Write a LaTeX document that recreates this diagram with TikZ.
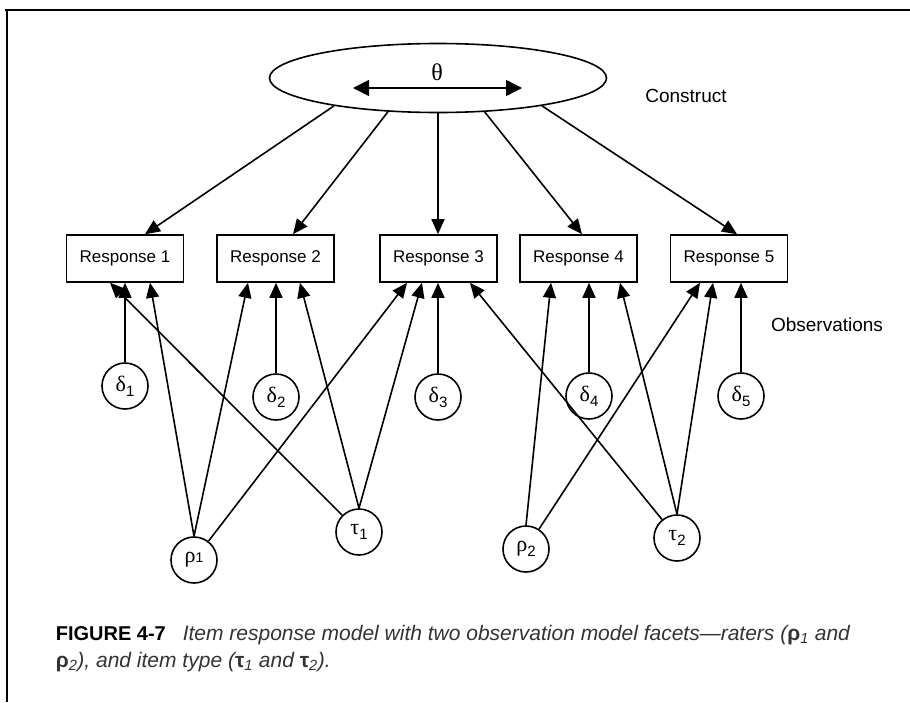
\documentclass[tikz,border=0pt]{standalone}
\usepackage{fontspec}
\setmainfont{Liberation Sans}
\newfontfamily\grf{Liberation Serif}
\usetikzlibrary{arrows.meta,shapes.geometric}
\newcommand\glab[2]{{\fontsize{22}{22}\selectfont\grf #1}\raisebox{-5pt}{\fontsize{15}{15}\selectfont #2}}
\begin{document}
\begin{tikzpicture}[x=1pt,y=-1pt,line width=1.6pt,
  resp/.style={draw,rectangle,minimum width=117pt,minimum height=47pt,inner sep=0pt,font=\fontsize{17}{19}\selectfont},
  lat/.style={draw,circle,minimum size=46pt,inner sep=0pt},
  edge/.style={-{Triangle[length=15pt,width=13pt]}},
  lbl/.style={font=\fontsize{19}{22}\selectfont}]
\useasboundingbox (0,0) rectangle (910,702);
% frame
\coordinate (f1) at (5,10);
\coordinate (f2) at (910,10);
\coordinate (f3) at (7,10);
\coordinate (f4) at (7,702);
\draw[line width=1.4pt] (f1) -- (f2);
\draw[line width=1.4pt] (f3) -- (f4);
% construct
\node[draw,ellipse,minimum width=337pt,minimum height=69pt,inner sep=0pt] (th) at (438,78) {};
\node (thl) at (437,72) {\fontsize{24}{24}\selectfont\grf θ};
\coordinate (aL) at (353,88);
\coordinate (aR) at (522,88);
\draw[{Triangle[length=16pt,width=16pt]}-{Triangle[length=16pt,width=16pt]}] (aL) -- (aR);
\node[lbl] (con) at (686,96) {Construct};
\node[lbl] (obs) at (827,325) {Observations};
% responses
\node[resp] (r1) at (125,258.5) {Response 1};
\node[resp] (r2) at (275.5,258.5) {Response 2};
\node[resp] (r3) at (438.5,258.5) {Response 3};
\node[resp] (r4) at (578.5,258.5) {Response 4};
\node[resp] (r5) at (729,258.5) {Response 5};
% theta arrows
\draw[edge] (th.195) -- ([xshift=20pt]r1.north);
\draw[edge] (th.214) -- ([xshift=17.5pt]r2.north);
\draw[edge] (th.270) -- ([xshift=-0.5pt]r3.north);
\draw[edge] (th.324) -- ([xshift=3.5pt]r4.north);
\draw[edge] (th.345) -- ([xshift=8pt]r5.north);
% deltas
\node[lat] (d1) at (125,386) {\glab{δ}{1}};
\node[lat] (d2) at (276,397) {\glab{δ}{2}};
\node[lat] (d3) at (438,397) {\glab{δ}{3}};
\node[lat] (d4) at (589,396) {\glab{δ}{4}};
\node[lat] (d5) at (741,396) {\glab{δ}{5}};
\foreach \d/\r in {d1/r1,d2/r2,d3/r3,d4/r4,d5/r5}
  \draw[edge] (\d) -- (\d |- \r.south);
% facets
\node[lat] (rho1) at (194,560) {{\fontsize{22}{22}\selectfont\grf ρ}{\fontsize{14}{14}\selectfont 1}};
\node[lat] (tau1) at (359,532) {\glab{τ}{1}};
\node[lat] (rho2) at (526,549) {\glab{ρ}{2}};
\node[lat] (tau2) at (677,538) {\glab{τ}{2}};
\draw[edge] (rho1.north) -- ([xshift=25pt]r1.south);
\draw[edge] (rho1.north) -- ([xshift=-27.5pt]r2.south);
\draw[edge] (rho1) -- ([xshift=-31.5pt]r3.south);
\draw[edge] (tau1) -- ([xshift=-15pt]r1.south);
\draw[edge] (tau1.north) -- ([xshift=24.5pt]r2.south);
\draw[edge] (tau1.north) -- ([xshift=-16.5pt]r3.south);
\draw[edge] (rho2.north) -- ([xshift=-27.5pt]r4.south);
\draw[edge] (rho2) -- ([xshift=-29pt]r5.south);
\draw[edge] (tau2) -- ([xshift=31.5pt]r3.south);
\draw[edge] (tau2.north) -- ([xshift=41.5pt]r4.south);
\draw[edge] (tau2.north) -- ([xshift=-16pt]r5.south);
% caption
\node[anchor=base west,inner sep=0pt] (fig) at (55,640) {\fontsize{20}{20}\selectfont\bfseries FIGURE 4-7};
\node[anchor=base west,inner sep=0pt,text=black!80] (cap1) at (182,640) {\fontsize{21}{21}\selectfont\itshape Item response model with two observation model facets—raters ({\upshape\bfseries ρ}\textsubscript{1} and};
\node[anchor=base west,inner sep=0pt,text=black!80] (cap2) at (55,667) {\fontsize{21}{21}\selectfont\itshape {\upshape\bfseries ρ}\textsubscript{2}), and item type ({\upshape\bfseries τ}\textsubscript{1} and {\upshape\bfseries τ}\textsubscript{2}).};
\end{tikzpicture}
\end{document}
